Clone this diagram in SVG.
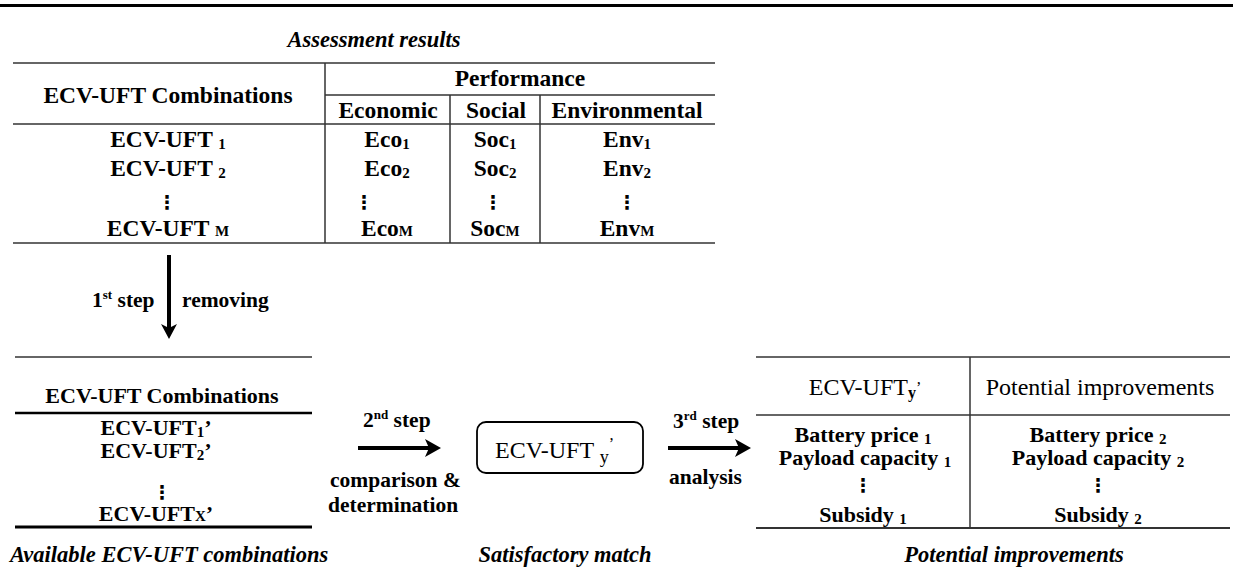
<svg xmlns="http://www.w3.org/2000/svg" width="1233" height="577" viewBox="0 0 1233 577" font-family="'Liberation Serif', 'DejaVu Serif', serif">
<style>
text{font-family:"Liberation Serif","DejaVu Serif",serif;fill:#000}
.h{font-weight:bold;font-size:23.5px;text-anchor:middle}
.c{font-weight:bold;font-size:22px;text-anchor:middle}
.lab{font-weight:bold;font-size:21.5px}
.cap{font-weight:bold;font-style:italic;font-size:22.5px}
.reg{font-weight:normal;font-size:24px}
text.dots{font-family:"DejaVu Sans",sans-serif;font-weight:bold;font-size:19px;text-anchor:middle}
.sub{font-size:15px}
.sup{font-size:13px}
.thin{stroke:#333;stroke-width:1.5;fill:none}
.arrow{stroke:#000;stroke-width:4;fill:none}
.head{fill:#000;stroke:none}
</style>
<rect x="0" y="4" width="1233" height="3" fill="#000"/>

<g id="assessment-table">
  <text class="cap" x="374" y="47" text-anchor="middle">Assessment results</text>
  <line class="thin" x1="13" y1="63" x2="715" y2="63"/>
  <line class="thin" x1="325" y1="95" x2="715" y2="95"/>
  <line class="thin" x1="13" y1="124" x2="715" y2="124"/>
  <line class="thin" x1="13" y1="243" x2="715" y2="243"/>
  <line class="thin" x1="325" y1="63" x2="325" y2="243"/>
  <line class="thin" x1="450" y1="95" x2="450" y2="243"/>
  <line class="thin" x1="540" y1="95" x2="540" y2="243"/>
  <text class="h" x="168" y="103">ECV-UFT Combinations</text>
  <text class="h" x="520" y="86">Performance</text>
  <text class="h" x="388" y="118">Economic</text>
  <text class="h" x="496" y="118">Social</text>
  <text class="h" x="627" y="118">Environmental</text>

  <text class="h" x="168" y="147">ECV-UFT <tspan class="sub" dy="2">1</tspan></text>
  <text class="h" x="168" y="176">ECV-UFT <tspan class="sub" dy="2">2</tspan></text>
  <text class="dots" x="167" y="209">⋮</text>
  <text class="h" x="168" y="236">ECV-UFT <tspan class="sub" font-size="16">M</tspan></text>

  <text class="h" x="387" y="147">Eco<tspan class="sub" dy="2">1</tspan></text>
  <text class="h" x="387" y="176">Eco<tspan class="sub" dy="2">2</tspan></text>
  <text class="dots" x="364" y="209">⋮</text>
  <text class="h" x="387" y="236">Eco<tspan class="sub" font-size="16">M</tspan></text>

  <text class="h" x="495" y="147">Soc<tspan class="sub" dy="2">1</tspan></text>
  <text class="h" x="495" y="176">Soc<tspan class="sub" dy="2">2</tspan></text>
  <text class="dots" x="493" y="209">⋮</text>
  <text class="h" x="495" y="236">Soc<tspan class="sub" font-size="16">M</tspan></text>

  <text class="h" x="627" y="147">Env<tspan class="sub" dy="2">1</tspan></text>
  <text class="h" x="627" y="176">Env<tspan class="sub" dy="2">2</tspan></text>
  <text class="dots" x="627" y="209">⋮</text>
  <text class="h" x="627" y="236">Env<tspan class="sub" font-size="16">M</tspan></text>
</g>

<g id="available-table">
  <line class="thin" x1="15" y1="357" x2="312" y2="357"/>
  <line x1="15" y1="413" x2="312" y2="413" stroke="#000" stroke-width="2.5"/>
  <line x1="15" y1="527" x2="312" y2="527" stroke="#000" stroke-width="3"/>
  <text class="c" x="162" y="403" font-size="22.5">ECV-UFT Combinations</text>
  <text class="c" x="156" y="435">ECV-UFT<tspan class="sub" dy="2">1</tspan><tspan dy="-2">’</tspan></text>
  <text class="c" x="156" y="458">ECV-UFT<tspan class="sub" dy="2">2</tspan><tspan dy="-2">’</tspan></text>
  <text class="dots" x="162" y="499">⋮</text>
  <text class="c" x="156" y="521">ECV-UFT<tspan class="sub" font-size="16">X</tspan><tspan>’</tspan></text>
  <text class="cap" x="10" y="562">Available ECV-UFT combinations</text>
</g>

<g id="satisfactory-match">
  <rect x="477" y="422" width="166" height="51" rx="9" fill="none" stroke="#000" stroke-width="1.8"/>
  <text class="reg" x="495" y="458">ECV-UFT <tspan dy="5" font-size="18">y</tspan><tspan dy="-14" font-size="16">’</tspan></text>
  <text class="cap" x="565" y="562" text-anchor="middle">Satisfactory match</text>
</g>

<g id="improvements-table">
  <line class="thin" x1="756" y1="357" x2="1230" y2="357"/>
  <line class="thin" x1="756" y1="415" x2="1230" y2="415"/>
  <line x1="756" y1="528" x2="1230" y2="528" stroke="#333" stroke-width="2"/>
  <line class="thin" x1="970" y1="357" x2="970" y2="528"/>
  <text class="reg" x="865" y="395" text-anchor="middle">ECV-UFT<tspan dy="3" font-size="16" font-weight="bold">y</tspan><tspan dy="-5" font-size="16">’</tspan></text>
  <text class="reg" x="1100" y="395" text-anchor="middle">Potential improvements</text>
  <text class="c" x="863" y="442">Battery price <tspan class="sub" dy="2">1</tspan></text>
  <text class="c" x="865" y="465">Payload capacity <tspan class="sub" dy="2">1</tspan></text>
  <text class="dots" x="863" y="492">⋮</text>
  <text class="c" x="863" y="522">Subsidy <tspan class="sub" dy="2">1</tspan></text>
  <text class="c" x="1098" y="442">Battery price <tspan class="sub" dy="2">2</tspan></text>
  <text class="c" x="1098" y="465">Payload capacity <tspan class="sub" dy="2">2</tspan></text>
  <text class="dots" x="1098" y="492">⋮</text>
  <text class="c" x="1098" y="522">Subsidy <tspan class="sub" dy="2">2</tspan></text>
  <text class="cap" x="1014" y="562" text-anchor="middle">Potential improvements</text>
</g>

<g id="connectors">
  <line class="arrow" x1="169" y1="255" x2="169" y2="328"/>
  <path class="head" d="M169,339 L161,324 L169,328 L177,324 Z"/>
  <text class="lab" x="92" y="307">1<tspan class="sup" dy="-8">st</tspan><tspan dy="8"> step</tspan></text>
  <text class="lab" x="182" y="307">removing</text>

  <line class="arrow" x1="358" y1="448" x2="430" y2="448"/>
  <path class="head" d="M441,448 L425,439 L429,448 L425,457 Z"/>
  <text class="lab" x="363" y="427">2<tspan class="sup" dy="-8">nd</tspan><tspan dy="8"> step</tspan></text>
  <text class="lab" x="330" y="487" font-size="22">comparison &amp;</text>
  <text class="lab" x="328" y="512" font-size="22">determination</text>

  <line class="arrow" x1="668" y1="448" x2="740" y2="448"/>
  <path class="head" d="M751,448 L735,439 L739,448 L735,457 Z"/>
  <text class="lab" x="673" y="428">3<tspan class="sup" dy="-8">rd</tspan><tspan dy="8"> step</tspan></text>
  <text class="lab" x="669" y="484">analysis</text>
</g>
</svg>
